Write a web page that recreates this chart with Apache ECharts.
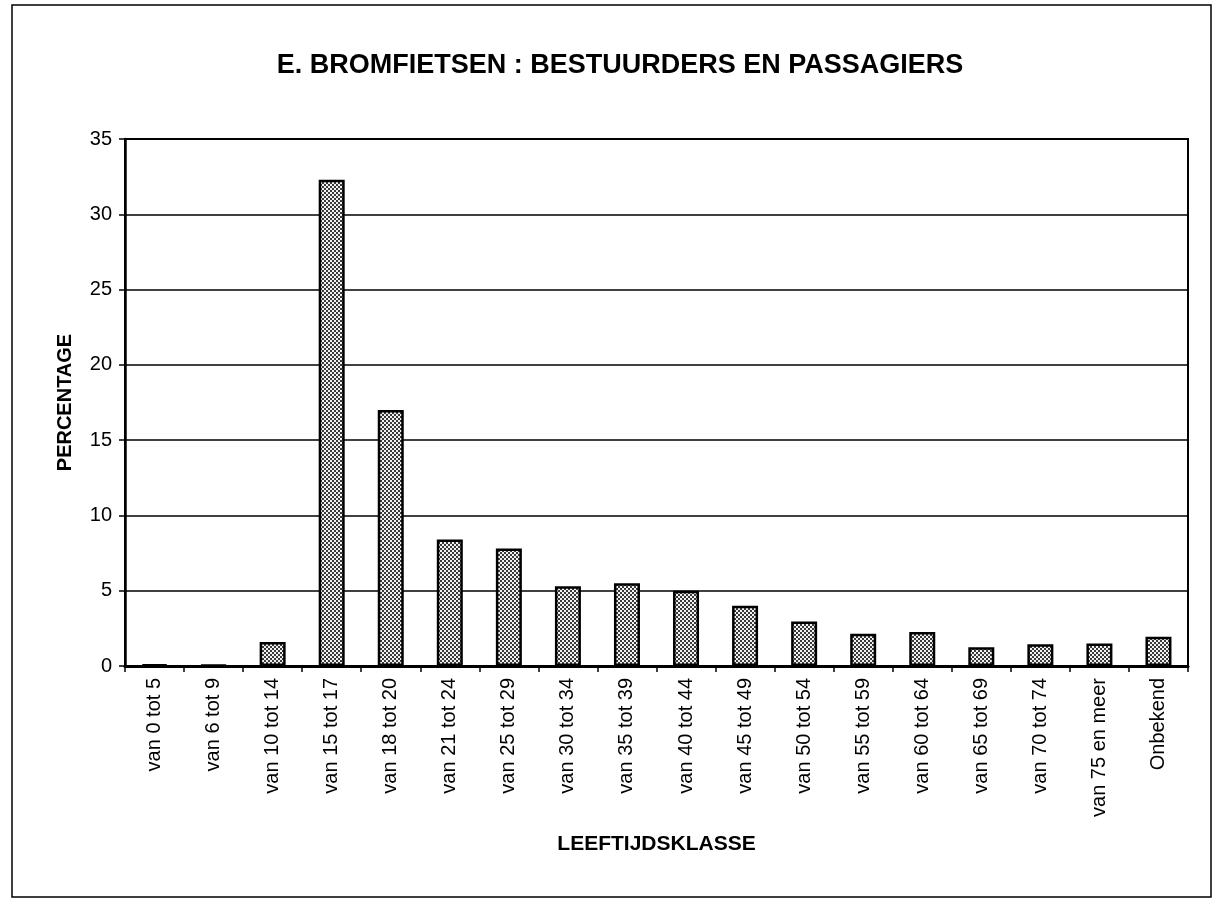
<!DOCTYPE html>
<html>
<head>
<meta charset="utf-8" />
<title>Bromfietsen</title>
<script src="https://cdn.jsdelivr.net/npm/echarts@6/dist/echarts.min.js"></script>
<style>
  html, body { margin: 0; padding: 0; background: #fff; }
  #chart { width: 1214px; height: 900px; }
</style>
</head>
<body>
<div id="chart"></div>
<script>
  // leeftijdsklassen
  var categories = ['van 0 tot 5', 'van 6 tot 9', 'van 10 tot 14', 'van 15 tot 17', 'van 18 tot 20',
    'van 21 tot 24', 'van 25 tot 29', 'van 30 tot 34', 'van 35 tot 39', 'van 40 tot 44',
    'van 45 tot 49', 'van 50 tot 54', 'van 55 tot 59', 'van 60 tot 64', 'van 65 tot 69',
    'van 70 tot 74', 'van 75 en meer', 'Onbekend'];
  // percentage per klasse
  var percentages = [0.1, 0.05, 1.6, 32.3, 17.0, 8.4, 7.8, 5.3, 5.5, 5.0, 4.0, 2.95, 2.15, 2.25, 1.25, 1.45, 1.5, 1.95];
  var yTicks = [0, 5, 10, 15, 20, 25, 30, 35];

  var FONT = '"Liberation Sans", Arial, sans-serif';

  // gerasterde vulling zoals in het origineel
  function makePattern() {
    var c = document.createElement('canvas');
    c.width = 4;
    c.height = 4;
    var ctx = c.getContext('2d');
    ctx.fillStyle = '#f2f2f2';
    ctx.fillRect(0, 0, 4, 4);
    ctx.fillStyle = '#3a3a3a';
    ctx.fillRect(0, 0, 2, 2);
    ctx.fillRect(2, 2, 2, 2);
    return c;
  }

  var myChart = echarts.init(document.getElementById('chart'), null, { renderer: 'canvas' });

  var option = {
    backgroundColor: '#fff',
    animation: false,
    title: {
      text: 'E. BROMFIETSEN : BESTUURDERS EN PASSAGIERS',
      left: 615,
      textAlign: 'center',
      top: 47,
      textStyle: { fontFamily: FONT, fontSize: 27, fontWeight: 'bold', color: '#000' }
    },
    graphic: [{
      type: 'rect',
      shape: { x: 12, y: 5, width: 1199, height: 892 },
      style: { fill: 'none', stroke: '#000', lineWidth: 1.5 },
      silent: true
    }],
    grid: {
      left: 125,
      right: 26,
      top: 139,
      bottom: 234,
      show: true,
      borderColor: '#000',
      borderWidth: 2,
      backgroundColor: 'transparent'
    },
    xAxis: {
      type: 'category',
      data: categories,
      boundaryGap: true,
      name: 'LEEFTIJDSKLASSE',
      nameLocation: 'middle',
      nameGap: 168,
      nameTextStyle: { fontFamily: FONT, fontSize: 21, fontWeight: 'bold', color: '#000' },
      axisLine: { lineStyle: { color: '#000', width: 3 } },
      axisTick: { show: true, inside: false, length: 6, alignWithLabel: false, lineStyle: { color: '#000', width: 1.5 } },
      axisLabel: { rotate: 90, interval: 0, margin: 12, fontFamily: FONT, fontSize: 20, color: '#000' },
      splitLine: { show: false }
    },
    yAxis: {
      type: 'value',
      min: yTicks[0],
      max: yTicks[yTicks.length - 1],
      interval: yTicks[1] - yTicks[0],
      name: 'PERCENTAGE',
      nameLocation: 'middle',
      nameGap: 50,
      nameRotate: 90,
      nameTextStyle: { fontFamily: FONT, fontSize: 20, fontWeight: 'bold', color: '#000' },
      axisLine: { show: true, lineStyle: { color: '#000', width: 2.5 } },
      axisTick: { show: true, inside: false, length: 6, lineStyle: { color: '#000', width: 1.5 } },
      axisLabel: { margin: 13, fontFamily: FONT, fontSize: 20, color: '#000' },
      splitLine: { show: true, lineStyle: { color: '#000', width: 1.5 } }
    },
    series: [{
      type: 'bar',
      data: percentages,
      barWidth: 26,
      itemStyle: {
        color: { image: makePattern(), repeat: 'repeat' },
        borderColor: '#000',
        borderWidth: 2.5
      }
    }]
  };

  myChart.setOption(option);
</script>
</body>
</html>
